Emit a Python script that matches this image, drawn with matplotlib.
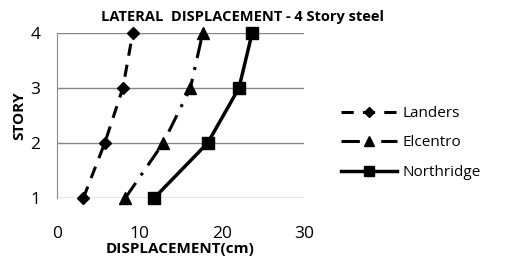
import matplotlib
matplotlib.use("Agg")
import matplotlib.pyplot as plt

story = [1, 2, 3, 4]
landers = [3.2, 5.8, 8.0, 9.2]
elcentro = [8.3, 12.9, 16.2, 17.7]
northridge = [11.8, 18.3, 22.1, 23.7]
xticks = [0, 10, 20, 30]
yticks = [1, 2, 3, 4]

plt.rcParams['font.family'] = ['Open Sans', 'DejaVu Sans']

fig = plt.figure(figsize=(5.06, 2.67), dpi=100)
ax = fig.add_axes([57/506, 1-198/267, 247/506, 165/267])

ax.plot(landers, story, color='black', lw=2.2, linestyle=(0, (4, 3)), marker='D', ms=6, label='Landers', clip_on=False)
ax.plot(elcentro, story, color='black', lw=2.2, linestyle=(0, (6, 3, 1, 3)), marker='^', ms=8, label='Elcentro', clip_on=False)
ax.plot(northridge, story, color='black', lw=2.5, linestyle='-', marker='s', ms=8, label='Northridge', clip_on=False)

ax.set_xlim(0, 30)
ax.set_ylim(1, 4)
ax.set_xticks(xticks)
ax.set_yticks(yticks)
ax.tick_params(length=0, labelsize=12.5)
ax.tick_params(axis='y', pad=12)
ax.tick_params(axis='x', pad=20)
for s in ['top', 'right', 'bottom']:
    ax.spines[s].set_visible(False)
ax.spines['left'].set_color('#888888')
ax.grid(axis='y', color='#888888', lw=1)
ax.set_axisbelow(True)

ax.set_xlabel('DISPLACEMENT(cm)', fontsize=11, fontweight='bold', labelpad=0)
ax.set_ylabel('STORY', fontsize=11, fontweight='bold', labelpad=3)
fig.text(243/506, 1-17/267, 'LATERAL  DISPLACEMENT - 4 Story steel', fontsize=10.5, fontweight='bold', ha='center', va='center')

leg = fig.legend(loc='center left', bbox_to_anchor=(327/506, 1-143/267), frameon=False, fontsize=11,
                 handlelength=3.7, labelspacing=0.95, handletextpad=0.35, markerscale=0.85)

fig.savefig('out.png', dpi=100)
